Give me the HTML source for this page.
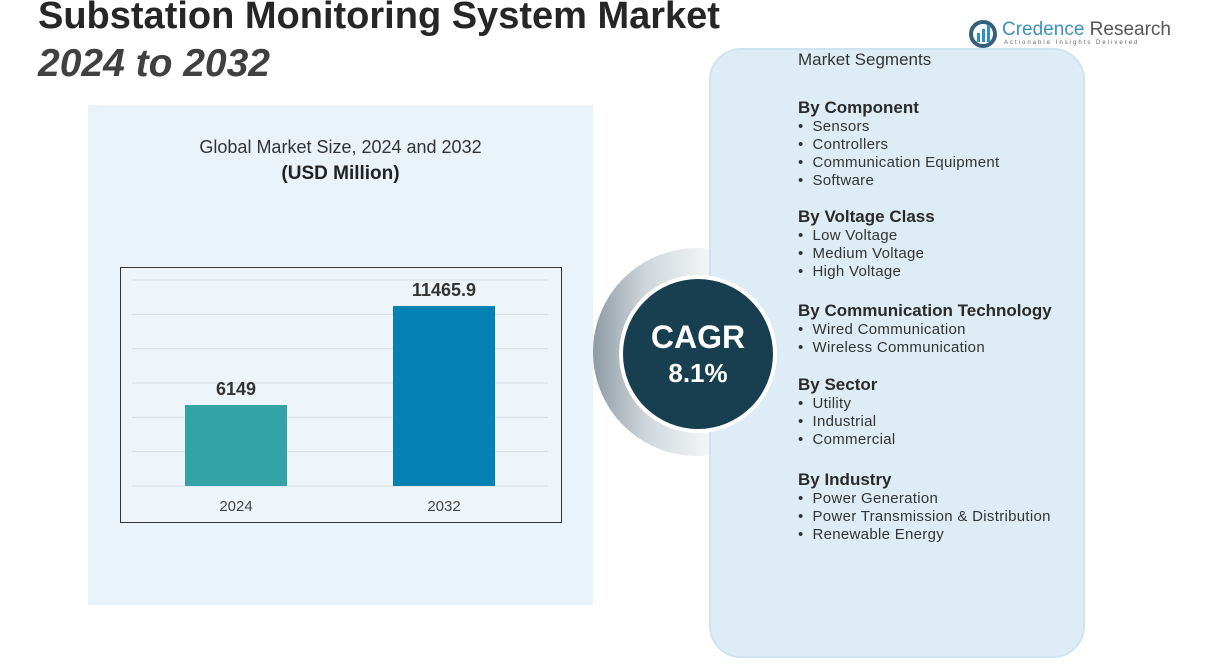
<!DOCTYPE html>
<html><head><meta charset="utf-8">
<style>
*{margin:0;padding:0;box-sizing:border-box}
html,body{width:1206px;height:670px;overflow:hidden}
body{background:#fff;font-family:"Liberation Sans",sans-serif;position:relative;color:#333}
.abs{position:absolute}
h1{position:absolute;left:38px;top:-5px;font-size:38px;font-weight:bold;color:#262626;white-space:nowrap}
h2{position:absolute;left:38px;top:42px;font-size:39px;font-weight:bold;font-style:italic;color:#404040}
#left{left:88px;top:105px;width:505px;height:500px;background:#eaf3f9}
#right{left:709px;top:48px;width:376px;height:610px;background:#deedf5;border:2px solid #cfe4ef;border-radius:32px}
.seg{position:absolute;left:798px;font-size:15px;color:#333;line-height:18px;letter-spacing:0.3px}
.seg b{font-size:17px;color:#2a2a2a;display:block;line-height:20px;letter-spacing:0}
</style></head>
<body>
<h1>Substation Monitoring System Market</h1>
<h2>2024 to 2032</h2>
<div class="abs" style="left:968px;top:18px;width:200px;height:32px">
 <svg width="30" height="30" class="abs" style="left:0;top:1px"><circle cx="15" cy="15" r="12" fill="none" stroke="#35607a" stroke-width="4"/><rect x="9" y="14" width="3" height="9" fill="#2f8fc0"/><rect x="14" y="10" width="3" height="13" fill="#2f8fc0"/><rect x="19" y="6" width="3" height="17" fill="#2f8fc0"/></svg>
 <div class="abs" style="left:34px;top:1px;font-size:19px;color:#3a8fc0;white-space:nowrap">Credence <span style="color:#555">Research</span></div>
 <div class="abs" style="left:36px;top:22px;font-size:6px;letter-spacing:2px;color:#666;white-space:nowrap">Actionable Insights Delivered</div>
</div>
<div id="left" class="abs"></div>
<div class="abs" style="left:88px;top:137px;width:505px;text-align:center;font-size:18px;color:#333">Global Market Size, 2024 and 2032</div>
<div class="abs" style="left:88px;top:163px;width:505px;text-align:center;font-size:19px;font-weight:bold;color:#222">(USD Million)</div>
<svg id="chart" class="abs" style="left:0;top:0" width="1206" height="670"></svg>
<div class="abs" style="left:593px;top:248px;width:208px;height:208px;border-radius:50%;background:linear-gradient(90deg,#8e9ba4 0%,#cfd6db 25%,#f3f5f6 55%,#fff 100%)"></div>
<div id="right" class="abs"></div>
<div class="abs" style="left:619px;top:275px;width:158px;height:158px;border-radius:50%;background:#173f4f;border:4px solid #fff;color:#fff;text-align:center">
 <div style="margin-top:40px;font-size:32px;font-weight:bold">CAGR</div>
 <div style="font-size:26px;font-weight:bold;margin-top:2px">8.1%</div>
</div>
<div class="abs" style="left:798px;top:50px;font-size:17px;color:#333">Market Segments</div>
<div class="seg" style="top:98px"><b>By Component</b><div>•&nbsp; Sensors</div><div>•&nbsp; Controllers</div><div>•&nbsp; Communication Equipment</div><div>•&nbsp; Software</div></div>
<div class="seg" style="top:207px"><b>By Voltage Class</b><div>•&nbsp; Low Voltage</div><div>•&nbsp; Medium Voltage</div><div>•&nbsp; High Voltage</div></div>
<div class="seg" style="top:301px"><b>By Communication Technology</b><div>•&nbsp; Wired Communication</div><div>•&nbsp; Wireless Communication</div></div>
<div class="seg" style="top:375px"><b>By Sector</b><div>•&nbsp; Utility</div><div>•&nbsp; Industrial</div><div>•&nbsp; Commercial</div></div>
<div class="seg" style="top:470px"><b>By Industry</b><div>•&nbsp; Power Generation</div><div>•&nbsp; Power Transmission &amp; Distribution</div><div>•&nbsp; Renewable Energy</div></div>
<script>
const categories=["2024","2032"];
const values=[6149,11465.9];
const valueLabels=["6149","11465.9"];
const barColors=["#34a3a5","#0581b3"];
const yMin=1800, yMax=12860, gridCount=6;
const svg=document.getElementById('chart');
const NS='http://www.w3.org/2000/svg';
const plotTop=280, plotBottom=486, plotLeft=132, plotRight=548;
function y(v){return plotBottom-(v-yMin)/(yMax-yMin)*(plotBottom-plotTop);}
function xc(i){return 236+i*208;}
function mk(t,a){const e=document.createElementNS(NS,t);for(const k in a)e.setAttribute(k,a[k]);svg.appendChild(e);return e;}
const frame=mk('rect',{x:120.5,y:267.5,width:441,height:255,fill:'#eef5fa',stroke:'#333','stroke-width':1});


for(let g=0;g<=gridCount;g++){
 const gy=plotBottom-g*(plotBottom-plotTop)/gridCount;
 const l=mk('line',{x1:plotLeft,x2:plotRight,y1:gy,y2:gy,stroke:'#d6dde2','stroke-width':1});
 
 
}
categories.forEach((c,i)=>{
 const top=y(values[i]);
 const r=mk('rect',{x:xc(i)-51,y:top,width:102,height:plotBottom-top,fill:barColors[i]});
 
 
 const t=mk('text',{x:xc(i),y:top-10,'text-anchor':'middle','font-size':18,'font-weight':'bold',fill:'#333','font-family':'Liberation Sans'});
 t.textContent=valueLabels[i];
 
 
 const xl=mk('text',{x:xc(i),y:511,'text-anchor':'middle','font-size':15,fill:'#444','font-family':'Liberation Sans'});
 xl.textContent=c;
 
 
});
</script>
</body></html>
